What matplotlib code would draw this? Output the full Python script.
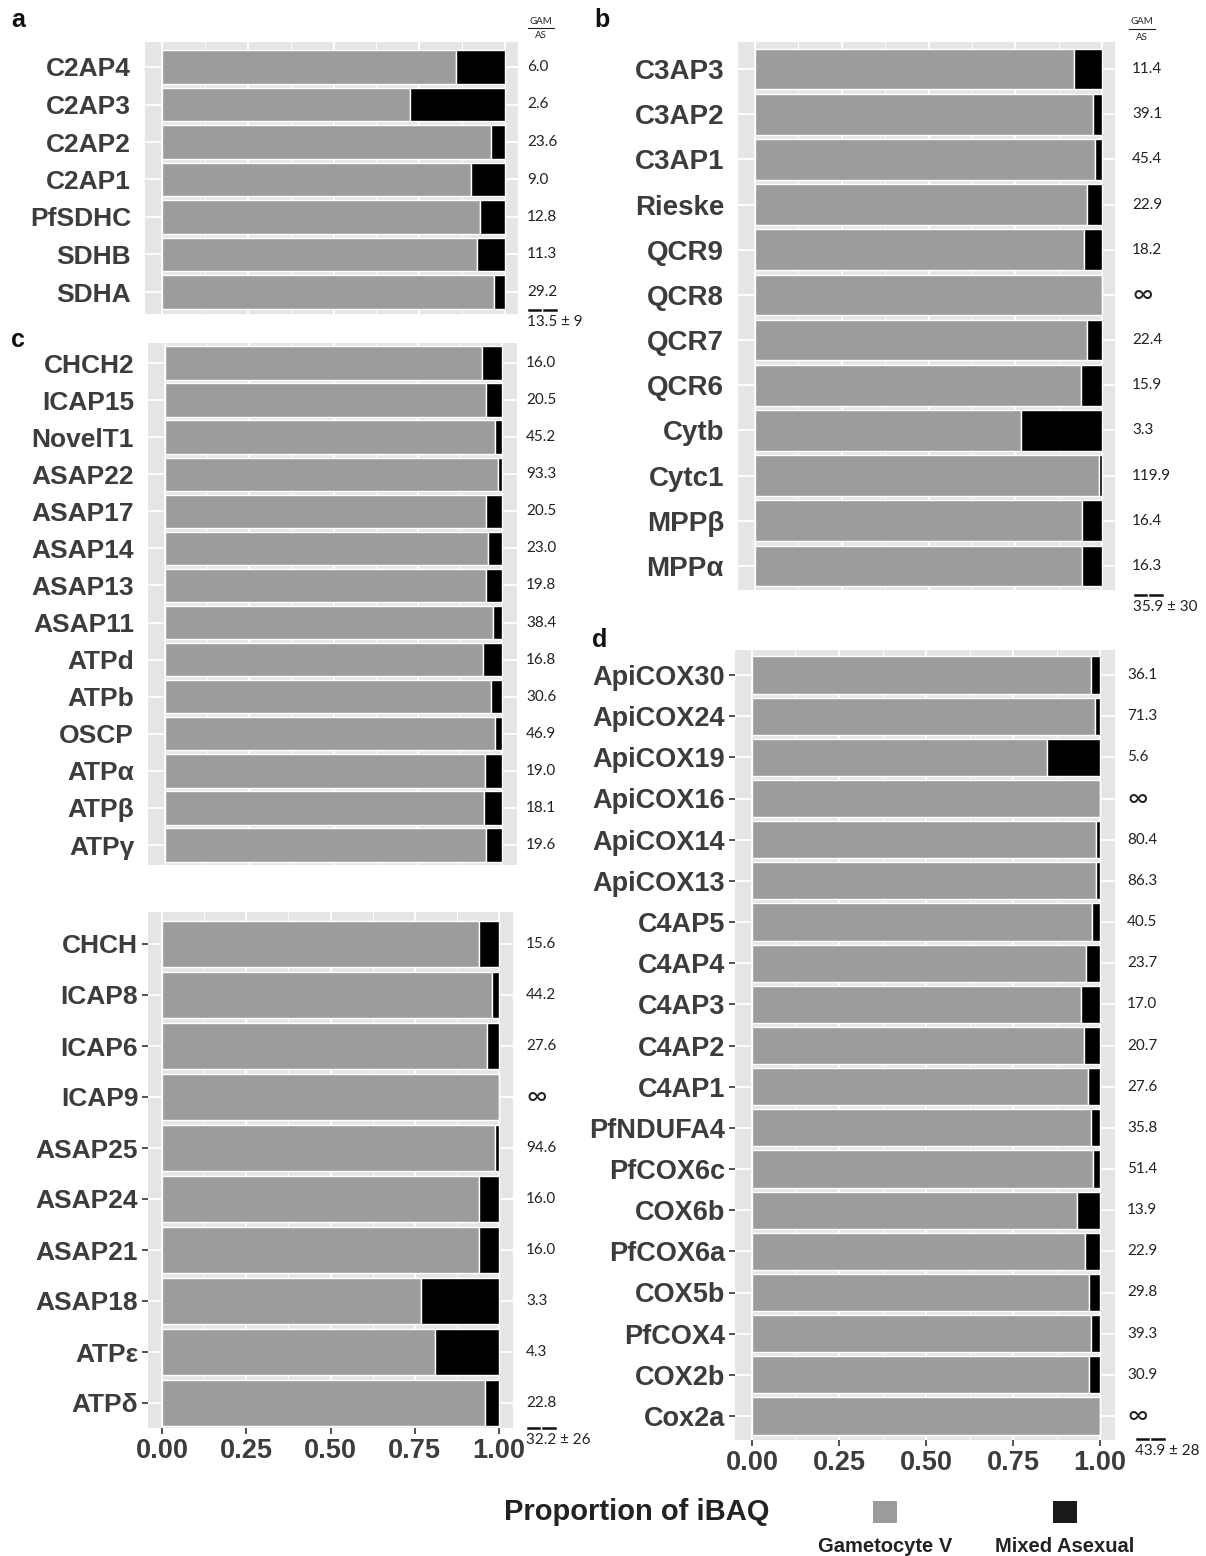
import numpy as np
import matplotlib
matplotlib.use("Agg")
import matplotlib.pyplot as plt
from matplotlib import transforms
from matplotlib.patches import Rectangle
from matplotlib.lines import Line2D

# ---- data: GAM / AS iBAQ ratios per protein (inf = not detected in asexual) ----
a_names = ["C2AP4", "C2AP3", "C2AP2", "C2AP1", "PfSDHC", "SDHB", "SDHA"]
a_ratio = [6.0, 2.6, 23.6, 9.0, 12.8, 11.3, 29.2]
a_mean = "13.5 ± 9"

b_names = ["C3AP3", "C3AP2", "C3AP1", "Rieske", "QCR9", "QCR8", "QCR7",
           "QCR6", "Cytb", "Cytc1", "MPPβ", "MPPα"]
b_ratio = [11.4, 39.1, 45.4, 22.9, 18.2, np.inf, 22.4, 15.9, 3.3, 119.9, 16.4, 16.3]
b_mean = "35.9 ± 30"

c1_names = ["CHCH2", "ICAP15", "NovelT1", "ASAP22", "ASAP17", "ASAP14", "ASAP13",
            "ASAP11", "ATPd", "ATPb", "OSCP", "ATPα", "ATPβ", "ATPγ"]
c1_ratio = [16.0, 20.5, 45.2, 93.3, 20.5, 23.0, 19.8, 38.4, 16.8, 30.6, 46.9,
            19.0, 18.1, 19.6]

c2_names = ["CHCH", "ICAP8", "ICAP6", "ICAP9", "ASAP25", "ASAP24", "ASAP21",
            "ASAP18", "ATPε", "ATPδ"]
c2_ratio = [15.6, 44.2, 27.6, np.inf, 94.6, 16.0, 16.0, 3.3, 4.3, 22.8]
c_mean = "32.2 ± 26"

d_names = ["ApiCOX30", "ApiCOX24", "ApiCOX19", "ApiCOX16", "ApiCOX14", "ApiCOX13",
           "C4AP5", "C4AP4", "C4AP3", "C4AP2", "C4AP1", "PfNDUFA4", "PfCOX6c",
           "COX6b", "PfCOX6a", "COX5b", "PfCOX4", "COX2b", "Cox2a"]
d_ratio = [36.1, 71.3, 5.6, np.inf, 80.4, 86.3, 40.5, 23.7, 17.0, 20.7, 27.6,
           35.8, 51.4, 13.9, 22.9, 29.8, 39.3, 30.9, np.inf]
d_mean = "43.9 ± 28"

x_ticks = [0.0, 0.25, 0.5, 0.75, 1.0]
x_ticklabels = ["0.00", "0.25", "0.50", "0.75", "1.00"]
legend_title = "Proportion of iBAQ"
legend_labels = ["Gametocyte V", "Mixed Asexual"]

# ---- styling ----
W, H = 1206, 1556
GAM_COL = "#9a9c9d"
AS_COL = "#000000"
PANEL_BG = "#e5e5e5"
LABEL_COL = "#3c3c3c"
BOLD = ["Liberation Sans", "DejaVu Sans"]
SMALL = ["Lato", "DejaVu Sans"]

fig = plt.figure(figsize=(W / 100, H / 100), dpi=100)
fig.patch.set_facecolor("white")


def fx(px):
    return px / W


def fy(py):
    return 1 - py / H


def fmt_ratio(r):
    return "∞" if np.isinf(r) else f"{r:.1f}"


def panel(rect, bars, rows, names, ratios, ratio_x, label_size, ticks=False,
          xlabels=False):
    x0, y0, x1, y1 = rect
    bl, br = bars
    c0, cn = rows
    n = len(names)
    ax = fig.add_axes([fx(x0), fy(y1), fx(x1 - x0), (y1 - y0) / H])
    ax.set_facecolor(PANEL_BG)
    span = br - bl
    ax.set_xlim(-(bl - x0) / span, 1 + (x1 - br) / span)
    s = (cn - c0) / (n - 1)
    ax.set_ylim((n - 1) + (y1 - cn) / s, -(c0 - y0) / s)
    for sp in ax.spines.values():
        sp.set_visible(False)

    # panel grid
    for g in np.arange(0, 1.001, 0.25):
        ax.axvline(g, color="white", lw=1.3, zorder=0)
    for g in np.arange(0.125, 1.0, 0.25):
        ax.axvline(g, color="white", lw=0.6, zorder=0)
    for i in range(n):
        ax.axhline(i, color="white", lw=1.3, zorder=0)

    ratios = np.asarray(ratios, dtype=float)
    gam = np.where(np.isinf(ratios), 1.0, ratios / (1.0 + ratios))
    asx = 1.0 - gam
    ypos = np.arange(n)
    ax.barh(ypos, gam, height=0.9, color=GAM_COL, edgecolor="white",
            linewidth=1.0, zorder=2)
    ax.barh(ypos, asx, left=gam, height=0.9, color=AS_COL, edgecolor="white",
            linewidth=1.0, zorder=2)

    ax.set_yticks(ypos)
    ax.set_yticklabels(names, fontsize=label_size, fontweight="bold",
                       color=LABEL_COL, family=BOLD)
    ax.set_xticks(x_ticks)
    if xlabels:
        ax.set_xticklabels(x_ticklabels, fontsize=19.5, fontweight="bold",
                           color=LABEL_COL, family=BOLD)
        ax.tick_params(axis="x", length=4, width=1.2, color="#333333", pad=3)
    else:
        ax.set_xticklabels([])
        ax.tick_params(axis="x", length=0)
    if ticks:
        ax.tick_params(axis="y", length=4, width=1.2, color="#333333", pad=3)
    else:
        ax.tick_params(axis="y", length=0, pad=10)

    tr = transforms.blended_transform_factory(fig.transFigure, ax.transData)
    for i, r in enumerate(ratios):
        if np.isinf(r):
            ax.text(fx(ratio_x), i, "∞", transform=tr, fontsize=20,
                    ha="left", va="center", color="#222222", family=SMALL)
        else:
            ax.text(fx(ratio_x), i, fmt_ratio(r), transform=tr, fontsize=11,
                    ha="left", va="center", color="#222222", family=SMALL)
    return ax


ax_a = panel((145, 42, 518, 314), (162, 505), (67, 292), a_names, a_ratio, 527, 19)
ax_b = panel((738, 42, 1115, 590), (755, 1102), (69, 566), b_names, b_ratio, 1132, 20)
ax_c1 = panel((148, 343, 517, 865), (165, 502), (363, 845), c1_names, c1_ratio, 526, 19)
ax_c2 = panel((148, 912, 513, 1428), (162, 499), (944, 1403), c2_names, c2_ratio, 526,
              19, ticks=True, xlabels=True)
ax_d = panel((735, 650, 1115, 1440), (752, 1100), (675, 1416), d_names, d_ratio, 1127,
             19.5, ticks=True, xlabels=True)

# panel letters
for letter, (px, py) in zip("abcd", [(18, 20), (602, 20), (18, 340), (600, 640)]):
    fig.text(fx(px), fy(py), letter, fontsize=18, fontweight="bold",
             ha="center", va="center", color="#111111", family=BOLD)


# GAM / AS column headers
def header(cx, ytop):
    fig.text(fx(cx), fy(ytop), "GAM", fontsize=7, ha="center", va="center",
             color="#222222", family=SMALL)
    fig.add_artist(Line2D([fx(cx - 13), fx(cx + 13)], [fy(ytop + 7)] * 2,
                          color="#222222", lw=0.8))
    fig.text(fx(cx), fy(ytop + 15), "AS", fontsize=7, ha="center", va="center",
             color="#222222", family=SMALL)


header(541, 21)
header(1142, 22)


# mean ± sd under each ratio column
def mean_label(px, py, txt):
    fig.text(fx(px), fy(py), txt, fontsize=11, ha="left", va="center",
             color="#222222", family=SMALL)
    yl = fy(py - 12)
    fig.add_artist(Line2D([fx(px + 2), fx(px + 13)], [yl, yl], color="#111111", lw=1.8))
    fig.add_artist(Line2D([fx(px + 17), fx(px + 29)], [yl, yl], color="#111111", lw=1.8))


mean_label(527, 322, a_mean)
mean_label(1133, 607, b_mean)
mean_label(526, 1440, c_mean)
mean_label(1135, 1451, d_mean)

# legend
fig.text(fx(637), fy(1512), legend_title, fontsize=21, fontweight="bold",
         ha="center", va="center", color="#222222", family=BOLD)
for cx, col, lab in zip([885, 1065], [GAM_COL, "#1a1a1a"], legend_labels):
    fig.add_artist(Rectangle((fx(cx - 12), fy(1523)), fx(24), 22 / H,
                             facecolor=col, edgecolor="none",
                             transform=fig.transFigure))
    fig.text(fx(cx), fy(1546), lab, fontsize=14.5, fontweight="bold",
             ha="center", va="center", color="#222222", family=BOLD)

fig.savefig("out.png", dpi=100, facecolor="white")
